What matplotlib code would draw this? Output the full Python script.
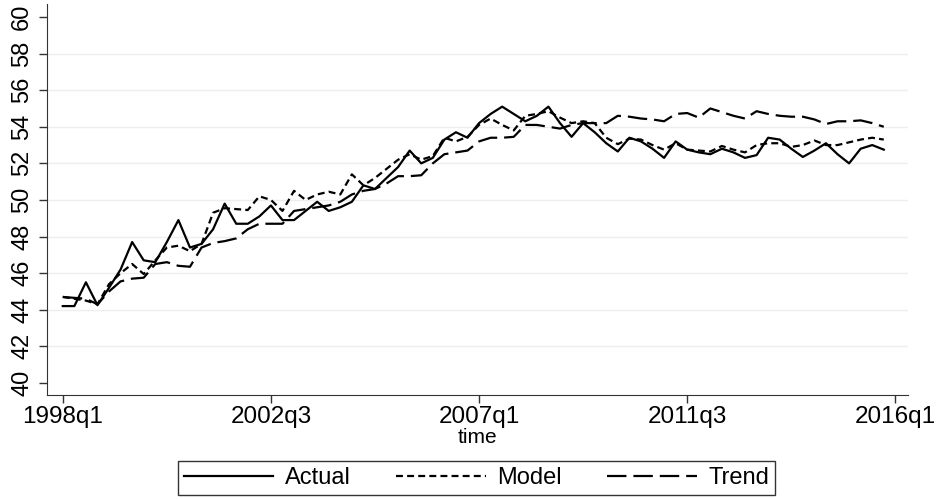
import numpy as np
import matplotlib
matplotlib.use('Agg')
import matplotlib.pyplot as plt

# quarterly series, 1998q1 .. 2015q4
actual = [44.2, 44.2, 45.5, 44.25, 45.2, 46.2, 47.7, 46.7, 46.6, 47.7,
          48.9, 47.4, 47.6, 48.4, 49.8, 48.7, 48.7, 49.1, 49.7, 48.9,
          48.9, 49.4, 49.9, 49.4, 49.6, 49.9, 50.8, 50.6, 51.2, 51.8,
          52.7, 52.0, 52.3, 53.3, 53.7, 53.4, 54.2, 54.7, 55.1, 54.7,
          54.3, 54.6, 55.1, 54.2, 53.45, 54.2, 53.7, 53.1, 52.65, 53.4,
          53.2, 52.8, 52.3, 53.2, 52.75, 52.6, 52.5, 52.8, 52.6, 52.3,
          52.45, 53.4, 53.3, 52.8, 52.35, 52.7, 53.1, 52.5, 52.0, 52.8,
          53.0, 52.75]
model = [44.7, 44.6, 44.5, 44.3, 45.4, 46.0, 46.5, 45.95, 46.7, 47.4,
         47.5, 47.2, 47.6, 49.3, 49.55, 49.5, 49.45, 50.2, 50.0, 49.4,
         50.5, 50.0, 50.3, 50.45, 50.3, 51.4, 50.8, 51.2, 51.7, 52.2,
         52.5, 52.2, 52.4, 53.4, 53.2, 53.45, 54.1, 54.45, 54.1, 53.8,
         54.6, 54.7, 54.85, 54.5, 54.2, 54.3, 54.2, 53.4, 53.05, 53.35,
         53.3, 53.0, 52.75, 53.1, 52.75, 52.7, 52.65, 52.95, 52.75, 52.6,
         53.0, 53.1, 53.1, 52.9, 53.0, 53.25, 53.0, 53.0, 53.15, 53.3,
         53.4, 53.3]
trend = [44.7, 44.65, 44.6, 44.3, 45.0, 45.55, 45.7, 45.75, 46.5, 46.6,
         46.4, 46.35, 47.4, 47.65, 47.75, 47.9, 48.4, 48.7, 48.7, 48.7,
         49.4, 49.5, 49.6, 49.7, 49.9, 50.3, 50.5, 50.6, 50.9, 51.3,
         51.3, 51.35, 52.0, 52.5, 52.6, 52.7, 53.2, 53.4, 53.4, 53.45,
         54.1, 54.1, 54.0, 53.9, 54.1, 54.2, 54.2, 54.2, 54.6, 54.55,
         54.45, 54.4, 54.3, 54.7, 54.75, 54.5, 55.0, 54.8, 54.6, 54.45,
         54.85, 54.7, 54.6, 54.55, 54.55, 54.4, 54.15, 54.3, 54.3, 54.35,
         54.2, 54.0]

tick_pos = [0, 18, 36, 54, 72]
tick_labels = ['1998q1', '2002q3', '2007q1', '2011q3', '2016q1']
y_ticks = list(range(40, 61, 2))

plt.rcParams['font.family'] = ['Liberation Sans', 'DejaVu Sans']
plt.rcParams['lines.scale_dashes'] = False

fig = plt.figure(figsize=(9.41, 4.99), dpi=100)
ax = fig.add_axes([0.05, 0.2084, 0.915, 0.7836])

t = np.arange(len(actual))
ax.plot(t, actual, color='black', lw=1.6, label='Actual')
ax.plot(t, model, color='black', lw=1.6, dashes=(5, 3), label='Model')
ax.plot(t, trend, color='black', lw=1.6, dashes=(14, 5), label='Trend')

ax.set_xlim(-1.36, 73.1)
ax.set_ylim(39.34, 60.71)
ax.set_xticks(tick_pos)
ax.set_xticklabels(tick_labels, fontsize=17.5)
ax.set_yticks(y_ticks)
ax.set_yticklabels([str(v) for v in y_ticks], fontsize=17, rotation=90, va='center')
ax.tick_params(axis='x', direction='out', length=6, width=1, color='#333333', pad=2)
ax.tick_params(axis='y', direction='out', length=6, width=1, color='#333333', pad=4)
for v in y_ticks[1:-1]:
    ax.axhline(v, color='#eeeeee', lw=1, zorder=0)

ax.spines['top'].set_visible(False)
ax.spines['right'].set_visible(False)
ax.spines['left'].set_color('#333333')
ax.spines['bottom'].set_color('#333333')
ax.set_xlabel('time', fontsize=15, labelpad=0)

leg = fig.legend(loc='center', bbox_to_anchor=(0.5064, 0.042), ncol=3, fontsize=17,
                 frameon=True, fancybox=False, edgecolor='black', handlelength=3.8,
                 handletextpad=0.5, columnspacing=1.9, borderpad=0.25)
leg.get_frame().set_linewidth(1)

fig.savefig('out.png', dpi=100)
